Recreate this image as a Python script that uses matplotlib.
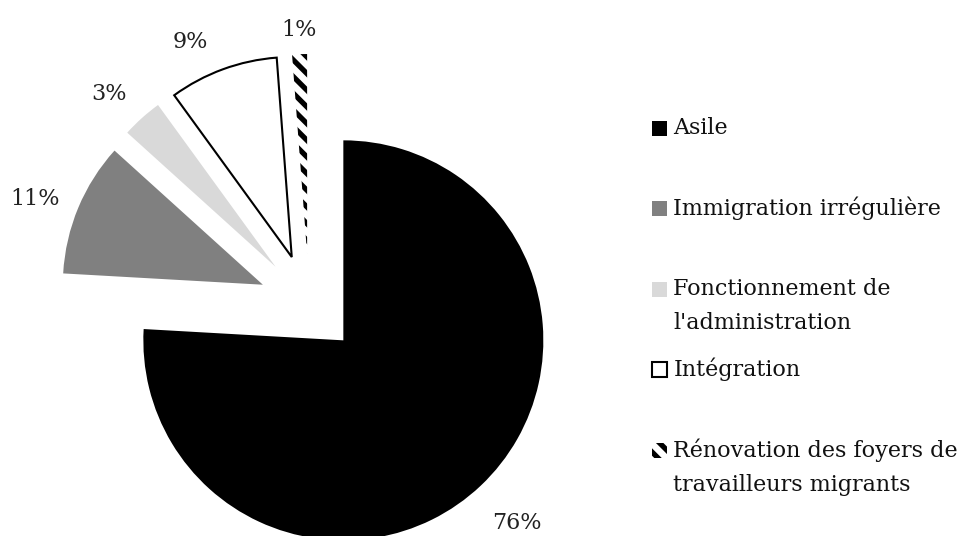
import matplotlib.pyplot as plt
import matplotlib.patches as mpatches
from matplotlib.legend_handler import HandlerPatch
import numpy as np

# Données
categories = ['Asile', 'Immigration irrégulière', "Fonctionnement de\nl'administration",
              'Intégration', 'Rénovation des foyers de\ntravailleurs migrants']
shares = [75.9, 10.8, 3.3, 8.8, 1.2]

colors = ['#000000', '#808080', '#d9d9d9', '#ffffff', '#ffffff']
edges = ['none', 'none', 'none', '#000000', '#000000']
lws = [0, 0, 0, 1.5, 0]
hatches = [None, None, None, None, '\\\\']
label_dist = [1.26, 1.22, 1.20, 1.19, 1.12]
label_turn = [0, 2, 2, 5, 0]  # petit décalage angulaire des étiquettes (degrés)

plt.rcParams['font.family'] = 'DejaVu Serif'
plt.rcParams['hatch.linewidth'] = 3.8

fig = plt.figure(figsize=(9.73, 5.36), dpi=100)
ax = fig.add_axes([0, 0, 1, 1])

wedges, _ = ax.pie(shares, explode=[0.25] * 5, colors=colors, startangle=90,
                   counterclock=False, radius=1)
for w, ec, lw, h in zip(wedges, edges, lws, hatches):
    w.set_edgecolor(ec)
    w.set_linewidth(lw)
    if h:
        w.set_hatch(h)

# étiquettes de pourcentage
for w, v, d, t in zip(wedges, shares, label_dist, label_turn):
    mid = np.deg2rad((w.theta1 + w.theta2) / 2 + t)
    cx, cy = w.center
    ax.text(cx + d * np.cos(mid), cy + d * np.sin(mid), f"{v:.0f}%",
            ha='center', va='center', fontsize=16, color='#222222')

# centre du camembert à (309, 304) px, rayon 200 px
ax.set_xlim(-309 / 200, (973 - 309) / 200)
ax.set_ylim(-(536 - 304) / 200, 304 / 200)
ax.set_aspect('auto')
ax.axis('off')


# petit carré de légende, un peu abaissé pour tomber sur la ligne de base
def square(legend, orig_handle, xdescent, ydescent, width, height, fontsize):
    return mpatches.Rectangle((-xdescent, -ydescent - 3.0), width, height)


# toutes les entrées sur deux lignes -> espacement régulier
leg_labels = [c if '\n' in c else c + '\n' for c in categories]
leg = fig.legend(wedges, leg_labels, loc='upper left', bbox_to_anchor=(0.659, 0.802),
                 frameon=False, fontsize=16, handlelength=0.65, handleheight=0.65,
                 handletextpad=0.3, labelspacing=1.07, borderpad=0,
                 handler_map={mpatches.Wedge: HandlerPatch(patch_func=square)})
for t in leg.get_texts():
    t.set_linespacing(1.7)
    t.set_color('#111111')
# carré aligné sur la première ligne
for col in leg._legend_handle_box.get_children():
    for item in col.get_children():
        item.align = 'top'

plt.savefig('out.png', dpi=100)
